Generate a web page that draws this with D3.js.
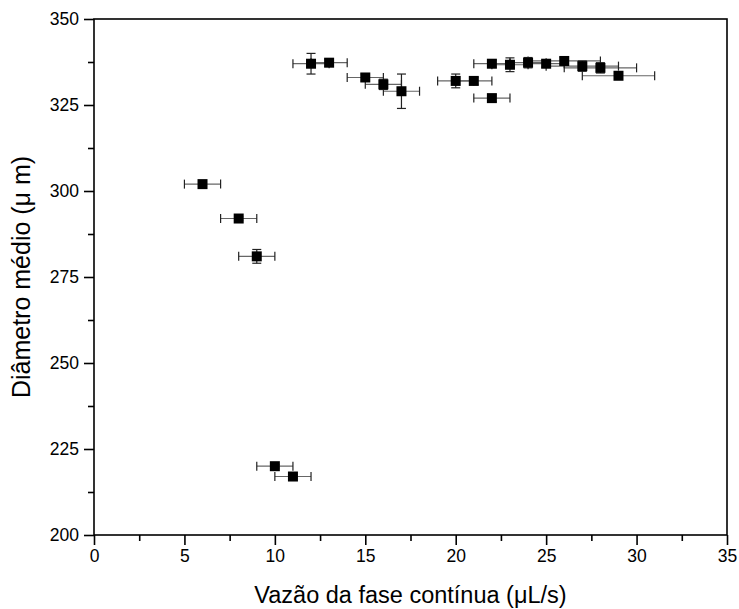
<!DOCTYPE html>
<html>
<head>
<meta charset="utf-8">
<script src="https://cdn.jsdelivr.net/npm/d3@7"></script>
<style>
  body { margin: 0; background: #fff; }
  text { font-family: "Liberation Sans", Arial, sans-serif; }
</style>
</head>
<body>
<div id="container"></div>
<script>
// chart data
const flow = [6, 8, 9, 10, 11, 12, 13, 15, 16, 17, 20, 21, 22, 22, 23, 24, 25, 26, 27, 28, 29];
const diameter = [302, 292, 281, 220, 217, 337, 337.3, 333, 331, 329, 332, 332, 337, 327, 336.7, 337.3, 337, 337.8, 336.3, 335.8, 333.5];
const flowErr = [1, 1, 1, 1, 1, 1, 1, 1, 1, 1, 1, 1, 1, 1, 1, 1, 1, 2, 2, 2, 2];
const diamErr = [1, 0.5, 2, 0.5, 0.5, 3, 1, 1, 1.5, 5, 2, 1, 1, 1, 2, 1.5, 1, 1, 1.5, 1.5, 1];
const xTicks = [0, 5, 10, 15, 20, 25, 30, 35];
const yTicks = [200, 225, 250, 275, 300, 325, 350];

const width = 739, height = 609;
const margin = { top: 19, right: 12, bottom: 74, left: 94 };

const svg = d3.select("#container")
  .append("svg")
  .attr("width", width)
  .attr("height", height);

const x = d3.scaleLinear().domain([0, 35]).range([margin.left, width - margin.right]);
const y = d3.scaleLinear().domain([200, 350]).range([height - margin.bottom, margin.top]);

const points = flow.map((d, i) => ({ x: d, y: diameter[i], ex: flowErr[i], ey: diamErr[i] }));

// frame
svg.append("rect")
  .attr("x", x(0)).attr("y", y(350))
  .attr("width", x(35) - x(0)).attr("height", y(200) - y(350))
  .attr("fill", "none").attr("stroke", "#000").attr("stroke-width", 1.6);

// x axis with minor ticks
const xAxis = svg.append("g").attr("transform", `translate(0,${y(200)})`);
xAxis.call(d3.axisBottom(x).tickValues(xTicks).tickSize(10).tickPadding(5).tickFormat(d3.format("d")));
xAxis.append("g").call(d3.axisBottom(x).tickValues(d3.range(2.5, 35, 5)).tickSize(6).tickFormat(""));

const yAxis = svg.append("g").attr("transform", `translate(${x(0)},0)`);
yAxis.call(d3.axisLeft(y).tickValues(yTicks).tickSize(10).tickPadding(5).tickFormat(d3.format("d")));
yAxis.append("g").call(d3.axisLeft(y).tickValues(d3.range(212.5, 350, 25)).tickSize(6).tickFormat(""));

svg.selectAll(".domain").remove();
svg.selectAll(".tick line").attr("stroke", "#000").attr("stroke-width", 1.6);
svg.selectAll(".tick text").attr("font-size", 17.5).attr("fill", "#000")
  .attr("font-family", "'Liberation Sans', Arial, sans-serif");

// error bars
const cap = 4.5;
const err = svg.append("g").attr("stroke-width", 1.2);

err.selectAll("line.hbar")
  .data(points)
  .join("line")
  .attr("class", "hbar")
  .attr("x1", d => x(d.x - d.ex)).attr("x2", d => x(d.x + d.ex))
  .attr("y1", d => y(d.y)).attr("y2", d => y(d.y))
  .attr("stroke", "#666");

err.selectAll("line.hcapl")
  .data(points)
  .join("line")
  .attr("class", "hcapl")
  .attr("x1", d => x(d.x - d.ex)).attr("x2", d => x(d.x - d.ex))
  .attr("y1", d => y(d.y) - cap).attr("y2", d => y(d.y) + cap)
  .attr("stroke", "#222");

err.selectAll("line.hcapr")
  .data(points)
  .join("line")
  .attr("class", "hcapr")
  .attr("x1", d => x(d.x + d.ex)).attr("x2", d => x(d.x + d.ex))
  .attr("y1", d => y(d.y) - cap).attr("y2", d => y(d.y) + cap)
  .attr("stroke", "#222");

err.selectAll("line.vbar")
  .data(points)
  .join("line")
  .attr("class", "vbar")
  .attr("x1", d => x(d.x)).attr("x2", d => x(d.x))
  .attr("y1", d => y(d.y - d.ey)).attr("y2", d => y(d.y + d.ey))
  .attr("stroke", "#222");

err.selectAll("line.vcapt")
  .data(points)
  .join("line")
  .attr("class", "vcapt")
  .attr("x1", d => x(d.x) - cap).attr("x2", d => x(d.x) + cap)
  .attr("y1", d => y(d.y + d.ey)).attr("y2", d => y(d.y + d.ey))
  .attr("stroke", "#222");

err.selectAll("line.vcapb")
  .data(points)
  .join("line")
  .attr("class", "vcapb")
  .attr("x1", d => x(d.x) - cap).attr("x2", d => x(d.x) + cap)
  .attr("y1", d => y(d.y - d.ey)).attr("y2", d => y(d.y - d.ey))
  .attr("stroke", "#222");

// markers
const s = 10;
svg.append("g")
  .selectAll("rect")
  .data(points)
  .join("rect")
  .attr("x", d => x(d.x) - s / 2)
  .attr("y", d => y(d.y) - s / 2)
  .attr("width", s).attr("height", s)
  .attr("fill", "#000");

// axis titles
svg.append("text")
  .attr("x", (x(0) + x(35)) / 2)
  .attr("y", 603)
  .attr("text-anchor", "middle")
  .attr("font-size", 23.5)
  .text("Vazão da fase contínua (μL/s)");

svg.append("text")
  .attr("transform", `translate(30,${(y(200) + y(350)) / 2}) rotate(-90)`)
  .attr("text-anchor", "middle")
  .attr("font-size", 25)
  .text("Diâmetro médio (μ m)");
</script>
</body>
</html>
